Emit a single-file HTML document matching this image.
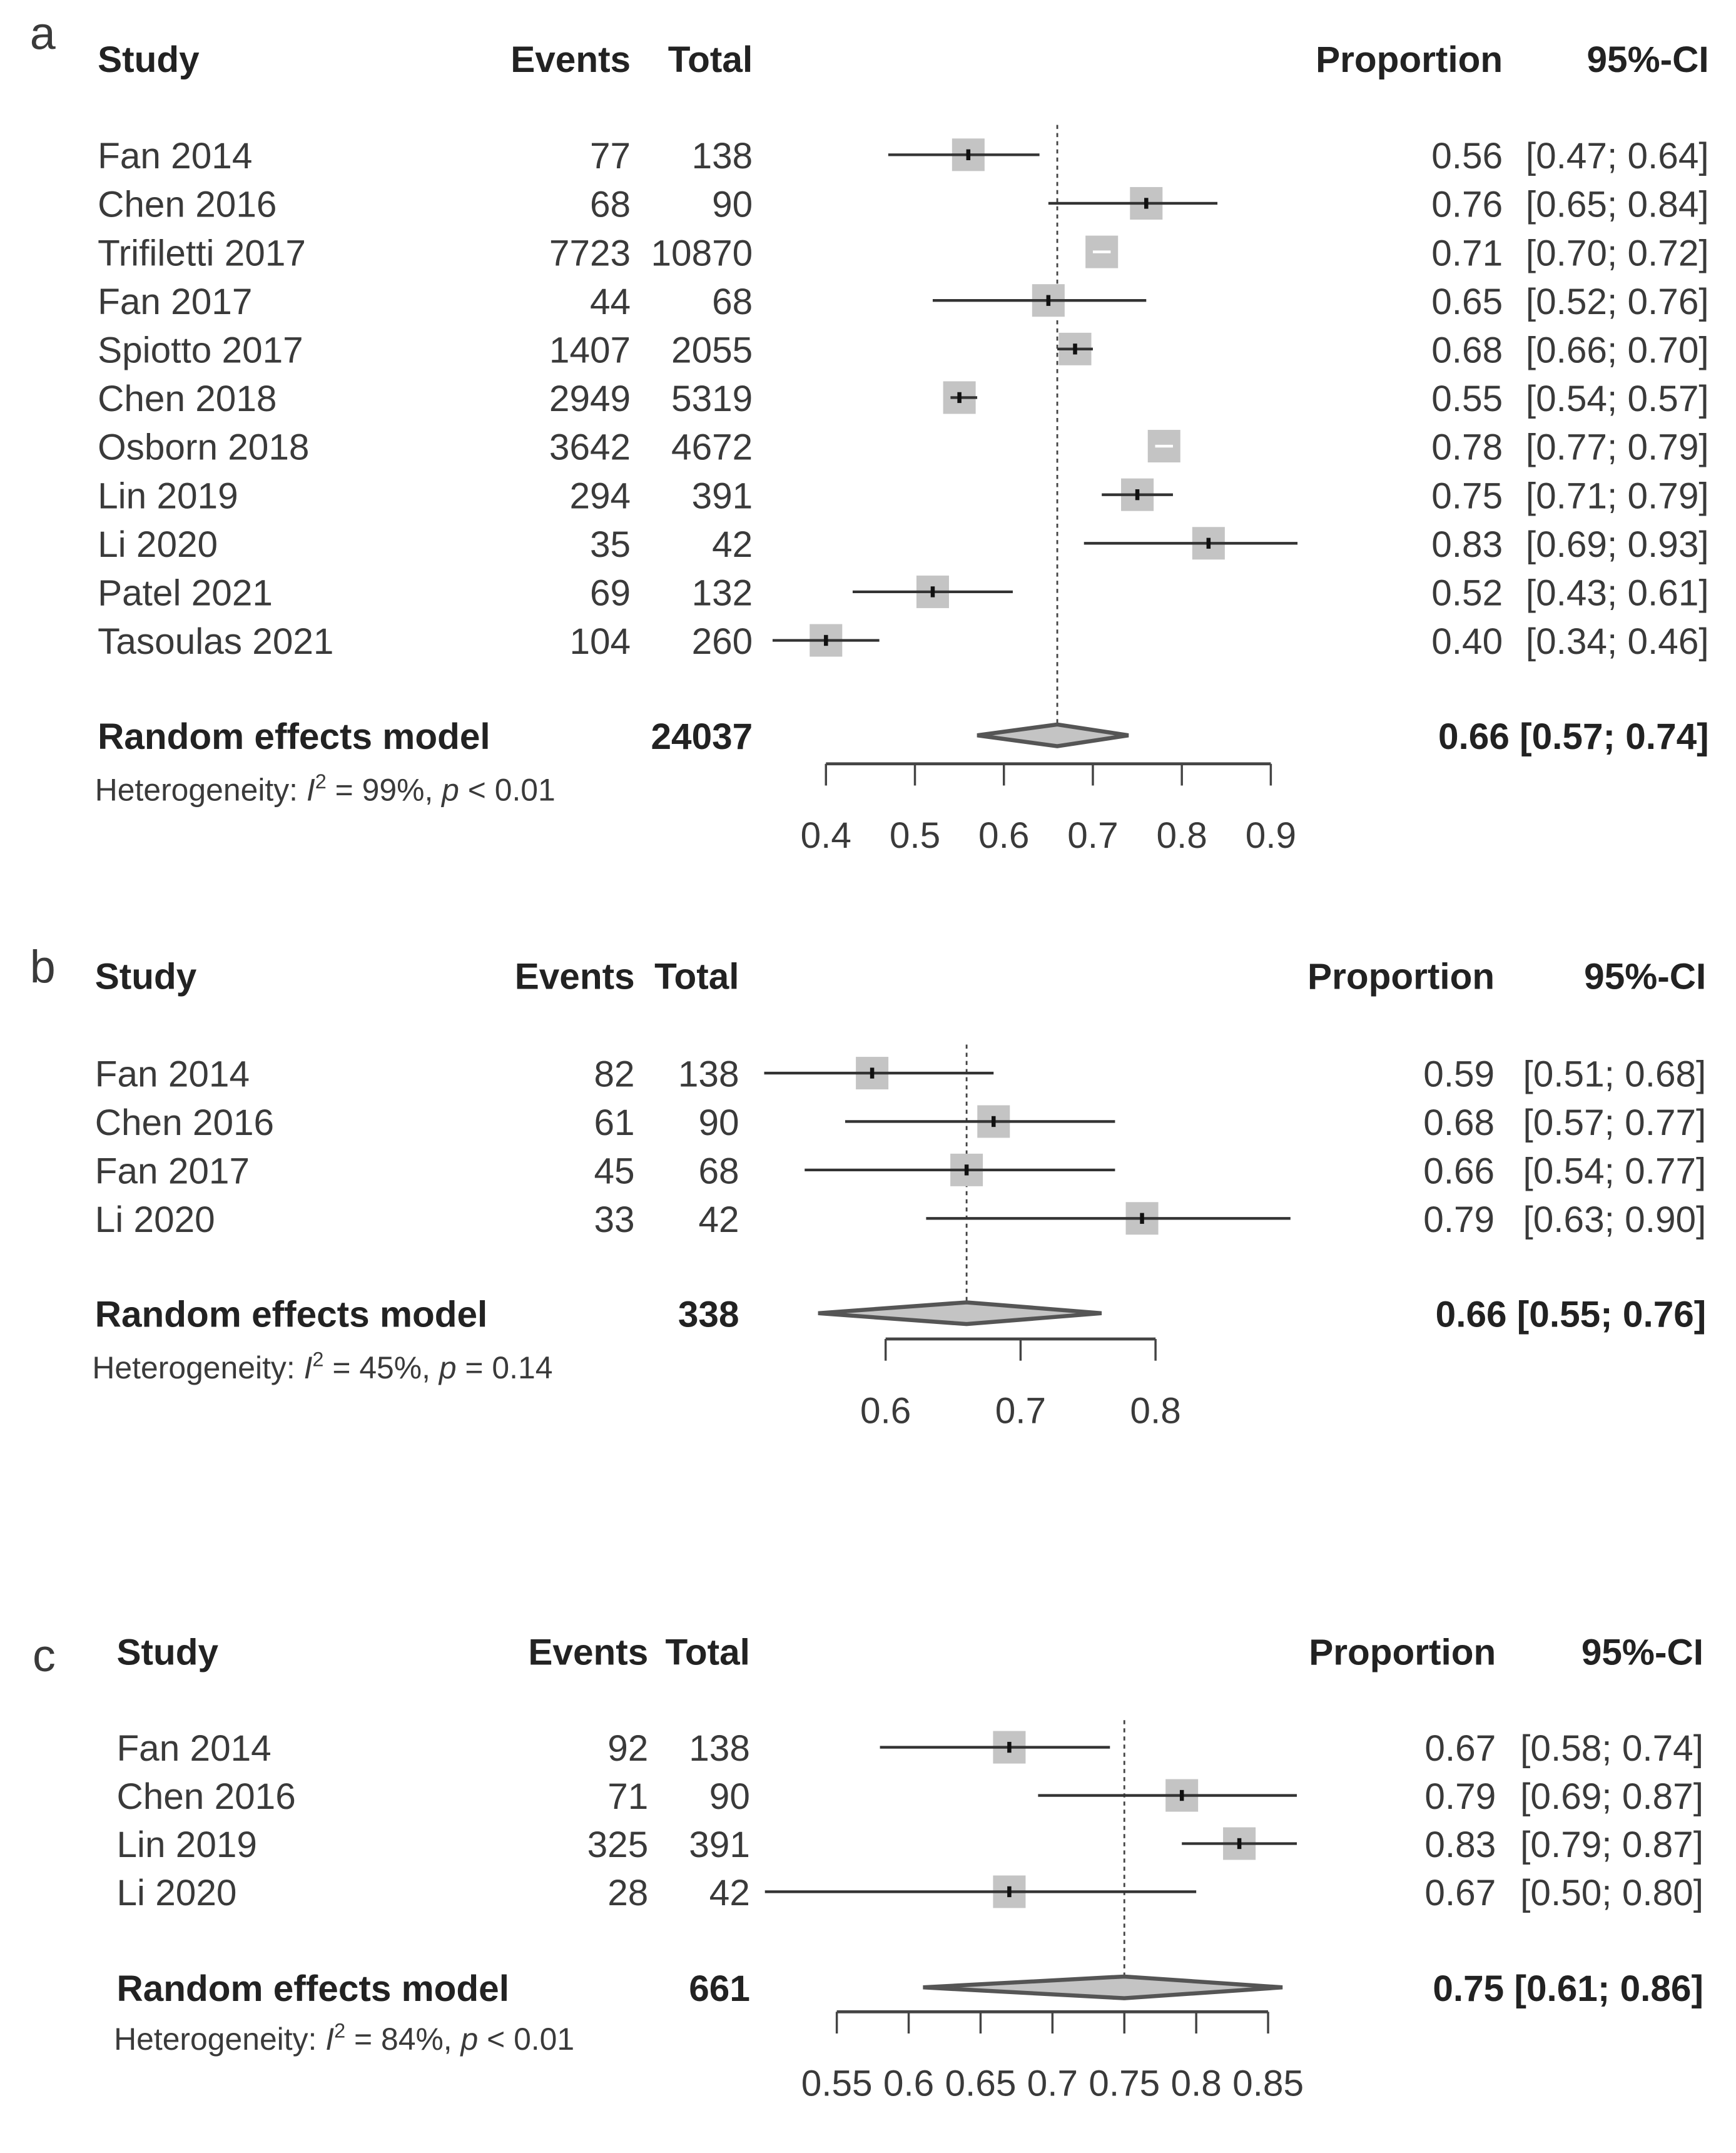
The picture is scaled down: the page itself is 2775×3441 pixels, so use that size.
<!DOCTYPE html>
<html><head><meta charset="utf-8"><style>
html,body{margin:0;padding:0;background:#fff}
svg{display:block}
text{font-family:"Liberation Sans",Arial,sans-serif;fill:#3a3a3a}
.b{font-weight:bold;fill:#222}
</style></head><body>
<svg id="chart" width="2775" height="3441" viewBox="0 0 1280 1587" xmlns="http://www.w3.org/2000/svg"></svg>
<script>
// Panel a data
const aStudies=["Fan 2014","Chen 2016","Trifiletti 2017","Fan 2017","Spiotto 2017","Chen 2018","Osborn 2018","Lin 2019","Li 2020","Patel 2021","Tasoulas 2021"];
const aEvents=[77,68,7723,44,1407,2949,3642,294,35,69,104];
const aTotals=[138,90,10870,68,2055,5319,4672,391,42,132,260];
const aProp=[0.56,0.76,0.71,0.65,0.68,0.55,0.78,0.75,0.83,0.52,0.40];
const aLow=[0.47,0.65,0.70,0.52,0.66,0.54,0.77,0.71,0.69,0.43,0.34];
const aHigh=[0.64,0.84,0.72,0.76,0.70,0.57,0.79,0.79,0.93,0.61,0.46];
const aPooled=[0.66,0.57,0.74];
const aTicks=[0.4,0.5,0.6,0.7,0.8,0.9];
// Panel b data
const bStudies=["Fan 2014","Chen 2016","Fan 2017","Li 2020"];
const bEvents=[82,61,45,33];
const bTotals=[138,90,68,42];
const bProp=[0.59,0.68,0.66,0.79];
const bLow=[0.51,0.57,0.54,0.63];
const bHigh=[0.68,0.77,0.77,0.90];
const bPooled=[0.66,0.55,0.76];
const bTicks=[0.6,0.7,0.8];
// Panel c data
const cStudies=["Fan 2014","Chen 2016","Lin 2019","Li 2020"];
const cEvents=[92,71,325,28];
const cTotals=[138,90,391,42];
const cProp=[0.67,0.79,0.83,0.67];
const cLow=[0.58,0.69,0.79,0.50];
const cHigh=[0.74,0.87,0.87,0.80];
const cPooled=[0.75,0.61,0.86];
const cTicks=[0.55,0.6,0.65,0.7,0.75,0.8,0.85];

const svg=document.getElementById('chart');
const NS='http://www.w3.org/2000/svg';
function mk(tag,attrs,parent){const e=document.createElementNS(NS,tag);for(const k in attrs)e.setAttribute(k,attrs[k]);(parent||svg).appendChild(e);return e;}
function txt(s,x,y,anchor,size,cls,parent){const t=mk('text',{x:x,y:y,'text-anchor':anchor,'font-size':size},parent);if(cls)t.setAttribute('class',cls);t.textContent=s;return t;}

function panel(cfg){
  const g=mk('g',{});
  
  
  const L=cfg.L, X=v=>cfg.x0+(v-cfg.v0)/(cfg.v1-cfg.v0)*(cfg.x1-cfg.x0);
  const lt=txt(cfg.letter,cfg.letX,cfg.letY,'start',34,null,g);
  
  
  const hy=cfg.hy, fs=27;
  const h1=txt('Study',L.study,hy,'start',fs,'b',g);
  const h2=txt('Events',L.ev,hy,'end',fs,'b',g);
  const h3=txt('Total',L.tot,hy,'end',fs,'b',g);
  const h4=txt('Proportion',L.prop,hy,'end',fs,'b',g);
  const h5=txt('95%-CI',L.ci,hy,'end',fs,'b',g);
  const dl=mk('line',{x1:X(cfg.pooled[0]),x2:X(cfg.pooled[0]),y1:cfg.dashTop,y2:cfg.reY-6,stroke:'#444','stroke-width':1.3,'stroke-dasharray':'3,3'},g);
  
  
  cfg.studies.forEach((s,i)=>{
    const y=cfg.rowY0+i*cfg.rowH;
    const r=mk('g',{},g);
    
    
    txt(s,L.study,y+10,'start',fs,null,r);
    txt(String(cfg.events[i]),L.ev,y+10,'end',fs,null,r);
    txt(String(cfg.totals[i]),L.tot,y+10,'end',fs,null,r);
    txt(cfg.prop[i].toFixed(2),L.prop,y+10,'end',fs,null,r);
    txt('['+cfg.low[i].toFixed(2)+'; '+cfg.high[i].toFixed(2)+']',L.ci,y+10,'end',fs,null,r);
    const sz=24, cx=X(cfg.prop[i]);
    const sq=mk('rect',{x:cx-sz/2,y:y-sz/2,width:sz,height:sz,fill:'#c4c4c4'},r);
    
    
    const xl=X(cfg.low[i]), xh=X(cfg.high[i]);
    const inside=(xl>cx-sz/2 && xh<cx+sz/2);
    const ln=mk('line',{x1:xl,x2:xh,y1:y,y2:y,stroke:inside?'#fff':'#333','stroke-width':2},r);
    
    
    if(!inside){mk('rect',{x:cx-1.5,y:y-4,width:3,height:8,fill:'#111'},r);}
  });
  const re=cfg.reY;
  const t1=txt('Random effects model',L.study,re+10,'start',fs,'b',g);
  const t2=txt(String(cfg.reTotal),L.tot,re+10,'end',fs,'b',g);
  const t3=txt(cfg.pooled[0].toFixed(2)+' ['+cfg.pooled[1].toFixed(2)+'; '+cfg.pooled[2].toFixed(2)+']',L.ci,re+10,'end',fs,'b',g);
  const dm=mk('polygon',{points:[X(cfg.pooled[1])+','+re, X(cfg.pooled[0])+','+(re-8), X(cfg.pooled[2])+','+re, X(cfg.pooled[0])+','+(re+8)].join(' '),fill:'#c4c4c4',stroke:'#555','stroke-width':3},g);
  
  
  const het=txt('',L.study-2,cfg.hetY,'start',23,null,g);
  
  
  het.innerHTML='Heterogeneity: <tspan font-style="italic">I</tspan><tspan dy="-9" font-size="15">2</tspan><tspan dy="9"> = '+cfg.i2+', </tspan><tspan font-style="italic">p</tspan> '+cfg.p;
  const ax=mk('g',{},g);
  
  
  const t0=cfg.ticks[0], tn=cfg.ticks[cfg.ticks.length-1];
  mk('line',{x1:X(t0),x2:X(tn),y1:cfg.axY,y2:cfg.axY,stroke:'#444','stroke-width':2.2},ax);
  cfg.ticks.forEach(v=>{
    mk('line',{x1:X(v),x2:X(v),y1:cfg.axY,y2:cfg.axY+16,stroke:'#444','stroke-width':1.6},ax);
    const tl=txt(String(v),X(v),cfg.axY+62,'middle',27,null,ax);
    
    
  });
}

panel({letter:'a',letX:22,letY:36,hy:53,L:{study:72,ev:465,tot:555,prop:1108,ci:1260},
  studies:aStudies,events:aEvents,totals:aTotals,prop:aProp,low:aLow,high:aHigh,pooled:aPooled,ticks:aTicks,
  x0:609,x1:937,v0:0.4,v1:0.9,rowY0:114,rowH:35.8,dashTop:92,reY:542,reTotal:24037,hetY:590,i2:'99%',p:'&lt; 0.01',axY:563});
panel({letter:'b',letX:22,letY:724,hy:729,L:{study:70,ev:468,tot:545,prop:1102,ci:1258},
  studies:bStudies,events:bEvents,totals:bTotals,prop:bProp,low:bLow,high:bHigh,pooled:bPooled,ticks:bTicks,
  x0:653,x1:852,v0:0.6,v1:0.8,rowY0:791,rowH:35.7,dashTop:770,reY:968,reTotal:338,hetY:1016,i2:'45%',p:'= 0.14',axY:987});
panel({letter:'c',letX:24,letY:1232,hy:1227,L:{study:86,ev:478,tot:553,prop:1103,ci:1256},
  studies:cStudies,events:cEvents,totals:cTotals,prop:cProp,low:cLow,high:cHigh,pooled:cPooled,ticks:cTicks,
  x0:617,x1:935,v0:0.55,v1:0.85,rowY0:1288,rowH:35.5,dashTop:1268,reY:1465,reTotal:661,hetY:1511,i2:'84%',p:'&lt; 0.01',axY:1483});
</script>
</body></html>
